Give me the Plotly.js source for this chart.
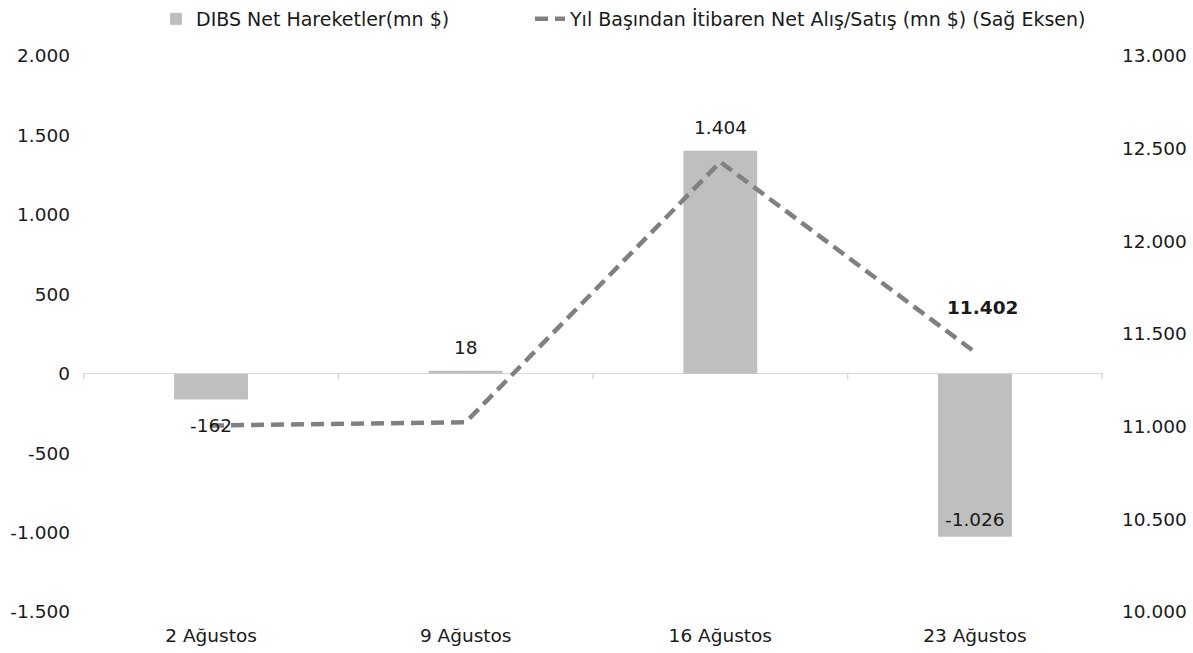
<!DOCTYPE html>
<html>
<head>
<meta charset="utf-8">
<script src="https://cdn.plot.ly/plotly-3.0.1.min.js"></script>
<style>html,body{margin:0;padding:0;background:#fff;}#chart{width:1193px;height:653px;}</style>
</head>
<body>
<div id="chart"></div>
<script>
const categories = ['2 Ağustos', '9 Ağustos', '16 Ağustos', '23 Ağustos'];
const netMoves = [-162, 18, 1404, -1026];
const ytdNet = [11006, 11024, 12428, 11402];
const leftTicks = [-1500, -1000, -500, 0, 500, 1000, 1500, 2000];
const rightTicks = [10000, 10500, 11000, 11500, 12000, 12500, 13000];

function fmt(v){
  const s = Math.abs(v).toString().replace(/\B(?=(\d{3})+(?!\d))/g, '.');
  return (v < 0 ? '-' : '') + s;
}

const FONT = 'DejaVu Sans, Verdana, sans-serif';
const FS = 18.5;
const LFS = 19;
const TXT = '#1a1a1a';

const bars = {
  type: 'bar',
  name: 'DIBS Net Hareketler(mn $)',
  x: categories,
  y: netMoves,
  marker: {color: '#bfbfbf'},
  width: 0.29,
  legend: 'legend',
  hoverinfo: 'x+y'
};

const line = {
  type: 'scatter',
  mode: 'lines',
  name: 'Yıl Başından İtibaren Net Alış/Satış (mn $) (Sağ Eksen)',
  x: categories,
  y: ytdNet,
  yaxis: 'y2',
  legend: 'legend2',
  line: {color: '#808080', width: 4.5, dash: '13px,7px'},
  cliponaxis: false
};

// value labels for bars, placed from the data
const barLabels = netMoves.map((v, i) => ({
  x: categories[i], y: v, xref: 'x', yref: 'y',
  text: fmt(v), showarrow: false,
  font: {family: FONT, size: FS, color: TXT},
  yshift: v < -500 ? 17 : (v < 0 ? -26 : 23)
}));
const lastIdx = ytdNet.length - 1;
const lineLabel = {
  x: categories[lastIdx], y: ytdNet[lastIdx], xref: 'x', yref: 'y2',
  text: '<b>' + fmt(ytdNet[lastIdx]) + '</b>', showarrow: false,
  font: {family: FONT, size: FS, color: TXT},
  yshift: 45, xshift: 8
};

const legendBase = {
  orientation: 'h',
  xref: 'container', yref: 'container',
  xanchor: 'left',
  y: 1.0, yanchor: 'top',
  font: {family: FONT, size: LFS, color: TXT},
  bgcolor: 'rgba(0,0,0,0)'
};

const layout = {
  width: 1193,
  height: 653,
  margin: {l: 83, r: 90, t: 56, b: 41, autoexpand: false},
  paper_bgcolor: '#ffffff',
  plot_bgcolor: '#ffffff',
  font: {family: FONT, size: FS, color: TXT},
  separators: ',.',
  showlegend: true,
  legend: Object.assign({}, legendBase, {x: 156 / 1193}),
  legend2: Object.assign({}, legendBase, {x: 530 / 1193}),
  xaxis: {
    type: 'category',
    showgrid: false,
    showline: false,
    ticks: '',
    tickfont: {family: FONT, size: FS, color: TXT},
    ticklabelstandoff: 10
  },
  yaxis: {
    range: [-1500, 2000],
    tickvals: leftTicks,
    ticktext: leftTicks.map(fmt),
    showgrid: false,
    zeroline: true,
    zerolinecolor: '#d9d9d9',
    zerolinewidth: 1.5,
    showline: false,
    ticks: '',
    ticklabelstandoff: 12,
    tickfont: {family: FONT, size: FS, color: TXT}
  },
  yaxis2: {
    overlaying: 'y',
    side: 'right',
    range: [10000, 13000],
    tickvals: rightTicks,
    ticktext: rightTicks.map(fmt),
    showgrid: false,
    zeroline: false,
    showline: false,
    ticks: '',
    ticklabelstandoff: 18,
    tickfont: {family: FONT, size: FS, color: TXT}
  },
  shapes: [-0.5, 0.5, 1.5, 2.5, 3.5].map(p => ({
    type: 'line', xref: 'x', yref: 'y',
    x0: p, x1: p, y0: 0, y1: -35,
    line: {color: '#d9d9d9', width: 1.5}
  })),
  annotations: barLabels.concat([lineLabel])
};

Plotly.newPlot('chart', [bars, line], layout, {displayModeBar: false, staticPlot: true});
</script>
</body>
</html>
